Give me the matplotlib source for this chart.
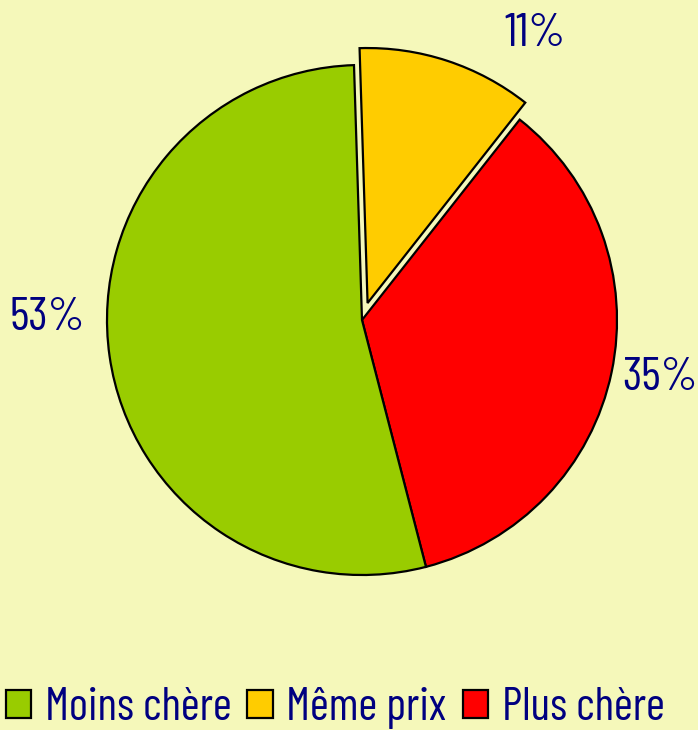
# pie chart: Moins chère / Même prix / Plus chère
import numpy as np
import matplotlib.pyplot as plt

# data (clockwise from top)
categories = ['Même prix', 'Plus chère', 'Moins chère']
values = [11, 35, 53]
pct_labels = ['11%', '35%', '53%']
colors = ['#FFCC00', '#FF0000', '#99CC00']
legend_order = [2, 0, 1]

# label placement (polar, in pie radius units)
label_r = [1.31, 1.19, 1.235]
label_deg = [58.8, -11.0, 179.6]

bg = '#F5F8BA'
navy = '#000080'

# condensed face like the original, plain sans as fallback
plt.rcParams['font.family'] = ['Barlow Condensed', 'Liberation Sans', 'DejaVu Sans']

fig = plt.figure(figsize=(6.98, 7.30), dpi=100, facecolor=bg)
ax = fig.add_axes([0, 0, 1, 1])
ax.set_facecolor(bg)
ax.axis('off')

# radius 1 = 255 px, pie centre at (362, 320) px from top-left
R = 255.0
wedges, _ = ax.pie(values, colors=colors, startangle=91.8, counterclock=False,
                   explode=[0.07, 0, 0], radius=1.0,
                   wedgeprops=dict(edgecolor='black', linewidth=1.6))
ax.set_aspect('auto')
ax.set_xlim(-362 / R, (698 - 362) / R)
ax.set_ylim(-(730 - 320) / R, 320 / R)

for txt, r, a in zip(pct_labels, label_r, label_deg):
    t = np.deg2rad(a)
    ax.text(r * np.cos(t), r * np.sin(t), txt, ha='center', va='center',
            fontsize=34, color=navy)

handles = [wedges[i] for i in legend_order]
labels = [categories[i] for i in legend_order]
leg = fig.legend(handles, labels, loc='lower center', bbox_to_anchor=(0.48, -0.008),
                 ncol=3, frameon=False, fontsize=33, handlelength=0.55,
                 handleheight=0.55, handletextpad=0.3, columnspacing=0.35,
                 borderaxespad=0, borderpad=0.15)
for t in leg.get_texts():
    t.set_color(navy)

fig.savefig('out.png', facecolor=bg)
